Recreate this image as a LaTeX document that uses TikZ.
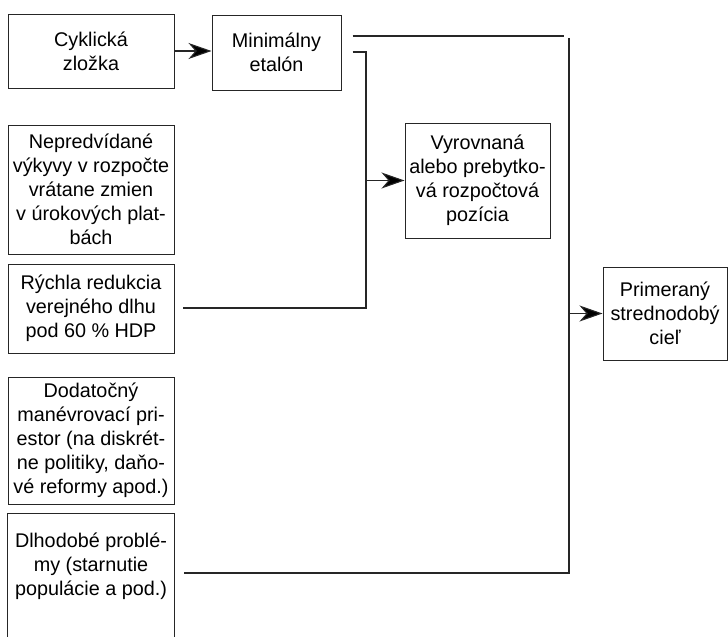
\documentclass[tikz,border=0pt]{standalone}
\usepackage{fontspec}
\setmainfont{Liberation Sans}
\usetikzlibrary{arrows.meta,calc}

\begin{document}
\begin{tikzpicture}[x=1pt,y=-1pt,
  box/.style={draw=black!85,line width=1pt,inner sep=0pt,align=center,
    font=\fontsize{19.8}{24}\selectfont},
  wire/.style={draw=black!85,line width=1.1pt},
  arr/.style={wire,-{Stealth[length=23pt,width=16pt,inset=7pt,fill=black]}}]
\useasboundingbox (0,0) rectangle (728,637);

% input boxes on the left
\node[box,minimum width=166,minimum height=74]  (cyk) at (91,51)    {Cyklická\\zložka};
\node[box,minimum width=166,minimum height=129] (nep) at (91,189.5) {Nepredvídané\\výkyvy v rozpočte\\vrátane zmien\\v úrokových plat-\\bách};
\node[box,minimum width=166,minimum height=89]  (ryc) at (91,308.5) {Rýchla redukcia\\verejného dlhu\\pod 60 \% HDP};
\node[box,minimum width=166,minimum height=127] (dod) at (91,440.5) {Dodatočný\\manévrovací pri-\\estor (na diskrét-\\ne politiky, daňo-\\vé reformy apod.)};
% last box runs off the lower edge: text node plus three sides
\node[box,draw=none,minimum width=166,minimum height=104] (dlh) at (91,566) {Dlhodobé problé-\\my (starnutie\\populácie a pod.)};
\coordinate (lowedge) at (0,640);
\draw[wire,line width=1pt] (dlh.west |- lowedge) -- (dlh.north west) -- (dlh.north east) -- (dlh.east |- lowedge);

% intermediate and target boxes
\node[box,minimum width=129,minimum height=75]  (min) at (276.5,52.5) {Minimálny\\etalón};
\node[box,minimum width=145,minimum height=115] (vyr) at (477.5,180.5) {Vyrovnaná\\alebo prebytko-\\vá rozpočtová\\pozícia};
\node[box,minimum width=124,minimum height=93]  (pri) at (665,313.5) {Primeraný\\strednodobý\\cieľ};

% bus junctions
\coordinate (rt) at (569,36);
\coordinate (rb) at (569,573);
\coordinate (lt) at (366,52);
\coordinate (lb) at (366,308);

% connectors
\draw[arr] (cyk.east) -- (cyk.east -| min.west);
\draw[wire] ([xshift=11pt]min.east |- rt) -- ([xshift=-5pt]rt);
\draw[wire] ([yshift=-2pt]rt) -- (rb) -- ([xshift=9pt]dlh.east |- rb);
\draw[wire] ([xshift=11pt]min.east |- lt) -- (lt) -- (lb) -- ([xshift=8pt]ryc.east |- lb);
\draw[arr] (vyr.west -| lt) -- (vyr.west);
\draw[arr] (pri.west -| rt) -- (pri.west);
\end{tikzpicture}
\end{document}
